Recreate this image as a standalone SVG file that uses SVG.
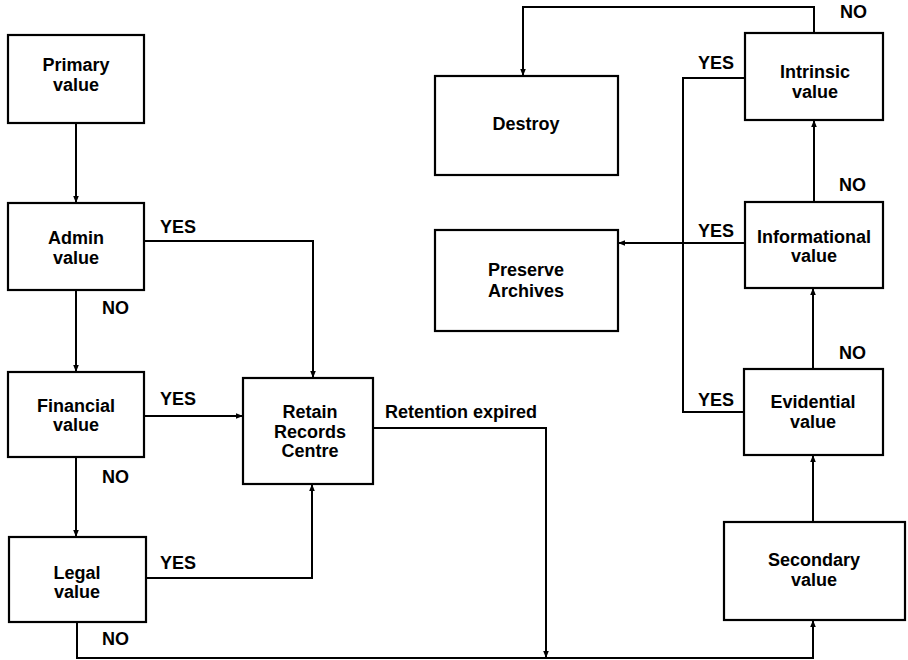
<svg xmlns="http://www.w3.org/2000/svg" width="908" height="660" viewBox="0 0 908 660">
<defs>
<marker id="ah" viewBox="0 0 10 10" refX="10" refY="5" markerWidth="7" markerHeight="7" markerUnits="userSpaceOnUse" orient="auto">
<path d="M0,1 L10,5 L0,9 Z" fill="#000"/>
</marker>
</defs>
<style>
rect{fill:#fff;stroke:#000;stroke-width:2.2}
text{font-family:"Liberation Sans",Arial,sans-serif;font-weight:bold;font-size:18px;fill:#000}
.c{text-anchor:middle}
#connectors path{fill:none;stroke:#000;stroke-width:2}
.a{marker-end:url(#ah)}
</style>
<rect x="0" y="0" width="908" height="660" style="stroke:none;fill:#fff"/>
<g id="connectors">
<path class="a" d="M76,123 V203"/>
<path class="a" d="M76,290 V372"/>
<path class="a" d="M76,457 V537"/>
<path class="a" d="M144,241 H313 V378"/>
<path class="a" d="M144,416 H243"/>
<path class="a" d="M146,578 H312 V484"/>
<path class="a" d="M373,428 H546 V658"/>
<path class="a" d="M77,622 V658 H813 V620"/>
<path class="a" d="M813,522 V455"/>
<path class="a" d="M813,369 V288"/>
<path class="a" d="M814,202 V120"/>
<path class="a" d="M814,33 V7 H523 V76"/>
<path d="M745,78 H683 V412 H744"/>
<path class="a" d="M745,243 H618"/>
</g>
<g id="labels">
<text x="160" y="233">YES</text>
<text x="102" y="314">NO</text>
<text x="160" y="405">YES</text>
<text x="102" y="483">NO</text>
<text x="160" y="569">YES</text>
<text x="102" y="645">NO</text>
<text x="385" y="418">Retention expired</text>
<text x="840" y="18">NO</text>
<text x="698" y="69">YES</text>
<text x="839" y="191">NO</text>
<text x="698" y="237">YES</text>
<text x="839" y="359">NO</text>
<text x="698" y="406">YES</text>
</g>
<g id="primary"><rect x="8" y="35" width="136" height="88"/><text class="c" x="76" y="71">Primary</text><text class="c" x="76" y="91">value</text></g>
<g id="admin"><rect x="8" y="203" width="136" height="87"/><text class="c" x="76" y="244">Admin</text><text class="c" x="76" y="264">value</text></g>
<g id="financial"><rect x="8" y="372" width="136" height="85"/><text class="c" x="76" y="412">Financial</text><text class="c" x="76" y="431">value</text></g>
<g id="legal"><rect x="9" y="537" width="137" height="85"/><text class="c" x="77" y="579">Legal</text><text class="c" x="77" y="598">value</text></g>
<g id="retain"><rect x="243" y="378" width="130" height="106"/><text class="c" x="310" y="418">Retain</text><text class="c" x="310" y="438">Records</text><text class="c" x="310" y="457">Centre</text></g>
<g id="destroy"><rect x="435" y="76" width="183" height="99"/><text class="c" x="526" y="130">Destroy</text></g>
<g id="preserve"><rect x="435" y="230" width="183" height="101"/><text class="c" x="526" y="276">Preserve</text><text class="c" x="526" y="297">Archives</text></g>
<g id="intrinsic"><rect x="745" y="33" width="138" height="87"/><text class="c" x="815" y="78">Intrinsic</text><text class="c" x="815" y="98">value</text></g>
<g id="informational"><rect x="745" y="202" width="138" height="86"/><text class="c" x="814" y="243">Informational</text><text class="c" x="814" y="262">value</text></g>
<g id="evidential"><rect x="744" y="369" width="139" height="86"/><text class="c" x="813" y="408">Evidential</text><text class="c" x="813" y="428">value</text></g>
<g id="secondary"><rect x="724" y="522" width="181" height="98"/><text class="c" x="814" y="566">Secondary</text><text class="c" x="814" y="586">value</text></g>
</svg>
